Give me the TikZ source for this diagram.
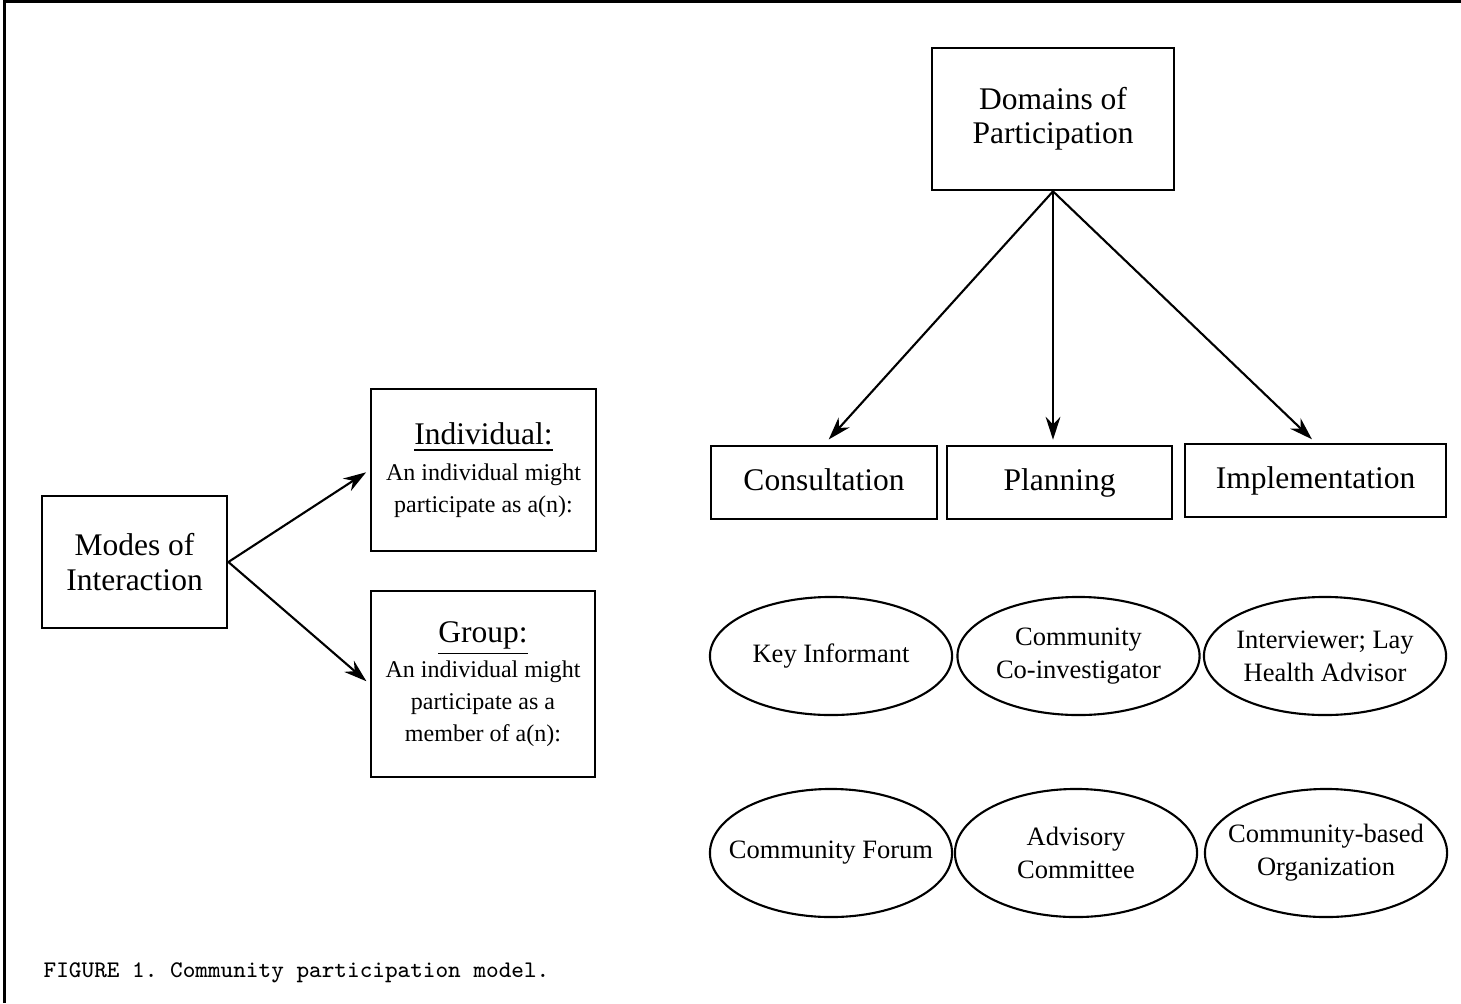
\documentclass[tikz,border=0pt]{standalone}
\usepackage{fontspec}
\setmainfont{Liberation Serif}
\usetikzlibrary{arrows.meta,shapes.geometric}

\newcommand{\headfont}{\fontsize{8.96pt}{9.7pt}\selectfont}
\newcommand{\notefont}{\fontsize{6.83pt}{9.1pt}\selectfont}
\newcommand{\ovalfont}{\fontsize{7.54pt}{9.4pt}\selectfont}

\begin{document}
\begin{tikzpicture}[x=0.01cm,y=-0.01cm,
  box/.style={draw,line width=0.75pt,rectangle,inner sep=0pt,align=center,font=\headfont},
  tab/.style={box,minimum height=0.73cm,text height=0.68em,text depth=0.22em},
  oval/.style={draw,line width=0.6pt,ellipse,inner xsep=-0.4cm,inner ysep=0pt,minimum width=2.42cm,align=center,font=\ovalfont},
  arr/.style={line width=0.6pt,-{Stealth[length=6.5pt,width=4.2pt]}}]
\useasboundingbox (0,0) rectangle (1461,1003);
\draw[line width=0.7pt] (4.5,1003) -- (4.5,1.5) -- (1461,1.5);

% modes of interaction
\node[box,minimum width=1.85cm,minimum height=1.32cm] (modes) at (134.5,562) {Modes of\\Interaction};
\node[box,minimum width=2.25cm,minimum height=1.62cm,font=\notefont] (indiv) at (483.5,470)
  {{\headfont\underline{Individual:}}\\[1pt]An individual might\\participate as a(n):};
\node[box,minimum width=2.24cm,minimum height=1.86cm,font=\notefont] (group) at (483,684)
  {{\headfont\underline{Group:}}\\[1pt]An individual might\\participate as a\\member of a(n):};

\draw[arr,shorten >=1.2pt] (modes.east) -- (indiv.west);
\draw[arr,shorten >=1.2pt] (modes.east) -- (group.west);

% domains of participation
\node[box,minimum width=2.42cm,minimum height=1.42cm] (domains) at (1053,119) {Domains of\\Participation};
\node[tab,minimum width=2.26cm] (consult) at (824,482.5) {Consultation};
\node[tab,minimum width=2.25cm] (planning) at (1059.5,482.5) {Planning};
\node[tab,minimum width=2.61cm] (impl) at (1315.5,480.5) {Implementation};

\draw[arr,shorten >=2pt] (domains.south) -- (consult.north);
\draw[arr,shorten >=1.4pt] (domains.south) -- (domains.south |- planning.north);
\draw[arr,shorten >=1.4pt] (domains.south) -- (impl.north);

% roles
\node[oval,minimum height=1.18cm] (keyinf) at (831,656) {Key Informant};
\node[oval,minimum height=1.18cm] (coinv) at (1078.5,656) {Community\\Co-investigator};
\node[oval,minimum height=1.18cm] (lay) at (1325,656) {Interviewer; Lay\\Health Advisor};
\node[oval,minimum height=1.28cm] (forum) at (831,853) {Community Forum};
\node[oval,minimum height=1.28cm] (advis) at (1076,853) {Advisory\\Committee};
\node[oval,minimum height=1.28cm] (cbo) at (1326,853) {Community-based\\Organization};

\node[anchor=base west,inner sep=0pt,font=\ttfamily\frenchspacing\fontsize{6.77pt}{8pt}\selectfont] (caption) at (43,977)
  {FIGURE 1. Community participation model.};
\end{tikzpicture}
\end{document}
